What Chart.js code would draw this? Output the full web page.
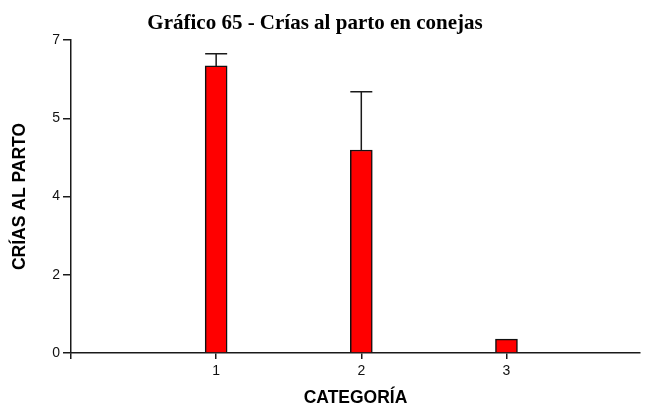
<!DOCTYPE html>
<html>
<head>
<meta charset="utf-8">
<script src="https://cdn.jsdelivr.net/npm/chart.js@4.4.1/dist/chart.umd.min.js"></script>
<style>
  body { margin: 0; background: #fff; }
  #wrap { width: 649px; height: 409px; }
</style>
</head>
<body>
<div id="wrap"><canvas id="criasChart" width="649" height="409"></canvas></div>
<script>
const chartTitle = "Gráfico 65 - Crías al parto en conejas";
const categories = [1, 2, 3];
const crias = [6.42, 4.54, 0.31];
const errorUp = [0.27, 1.30, 0];
const yTicks = [0, 1.75, 3.5, 5.25, 7];
const xTicks = [0, 1, 2, 3];

const axisColor = "#1a1a1a";
const tickFont = { family: "'Liberation Sans', Arial, sans-serif", size: 14 };
const ctx = document.getElementById("criasChart");

// title drawn a bit left of center, like the printed figure
const titlePlugin = {
  id: "titlePlugin",
  afterDraw(chart) {
    const c = chart.ctx;
    c.save();
    c.font = "bold 21px 'Liberation Serif', 'Times New Roman', serif";
    c.fillStyle = "#000";
    c.textAlign = "center";
    c.textBaseline = "alphabetic";
    c.fillText(chartTitle, 315, 29);
    c.restore();
  },
};

// upper error whisker with a cap as wide as the bar
const errorBars = {
  id: "errorBars",
  afterDatasetsDraw(chart) {
    const c = chart.ctx;
    const yScale = chart.scales.y;
    const meta = chart.getDatasetMeta(0);
    c.save();
    c.strokeStyle = axisColor;
    c.lineWidth = 1.5;
    meta.data.forEach((bar, i) => {
      if (!errorUp[i]) return;
      const top = yScale.getPixelForValue(crias[i] + errorUp[i]);
      const half = bar.width / 2;
      c.beginPath();
      c.moveTo(bar.x, bar.y);
      c.lineTo(bar.x, top);
      c.moveTo(bar.x - half, top);
      c.lineTo(bar.x + half, top);
      c.stroke();
    });
    c.restore();
  },
};

const criasChart = new Chart(ctx, {
  type: "bar",
  data: {
    datasets: [
      {
        label: "Crías al parto",
        data: categories.map((cat, i) => ({ x: cat, y: crias[i] })),
        backgroundColor: "#ff0000",
        borderColor: "#111",
        borderWidth: 1.5,
        borderSkipped: "bottom",
        barThickness: 22,
      },
    ],
  },
  options: {
    responsive: false,
    animation: false,
    layout: { padding: { top: 40, right: 9, left: 0, bottom: 0 } },
    plugins: {
      legend: { display: false },
      tooltip: { enabled: false },
      title: { display: false },
    },
    scales: {
      x: {
        type: "linear",
        min: 0,
        max: 3.92,
        offset: false,
        afterBuildTicks: (scale) => {
          scale.ticks = xTicks.map((v) => ({ value: v }));
        },
        afterFit: (scale) => {
          scale.height = 56;
        },
        ticks: {
          color: "#111",
          font: tickFont,
          padding: 4,
          maxRotation: 0,
          callback: (v) => (v === 0 ? "" : v),
        },
        grid: {
          offset: false,
          drawOnChartArea: false,
          drawTicks: true,
          tickLength: 6,
          color: axisColor,
          lineWidth: 1.5,
        },
        border: { color: axisColor, width: 1.5 },
        title: {
          display: true,
          text: "CATEGORÍA",
          color: "#000",
          font: { family: "'Liberation Sans', Arial, sans-serif", size: 17.5, weight: "bold", lineHeight: 1.2 },
          padding: { top: 0, bottom: 0 },
        },
      },
      y: {
        min: 0,
        max: 7,
        afterBuildTicks: (scale) => {
          scale.ticks = yTicks.map((v) => ({ value: v }));
        },
        afterFit: (scale) => {
          scale.width = 71;
        },
        ticks: {
          color: "#111",
          font: tickFont,
          padding: 3,
          callback: (v) => Math.round(v),
        },
        grid: {
          drawOnChartArea: false,
          drawTicks: true,
          tickLength: 8,
          color: axisColor,
          lineWidth: 1.5,
        },
        border: { color: axisColor, width: 1.5 },
        title: {
          display: true,
          text: "CRÍAS AL PARTO",
          color: "#000",
          font: { family: "'Liberation Sans', Arial, sans-serif", size: 17.5, weight: "bold", lineHeight: 1.2 },
          padding: { top: 9.5, bottom: 0 },
        },
      },
    },
  },
  plugins: [titlePlugin, errorBars],
});
</script>
</body>
</html>
